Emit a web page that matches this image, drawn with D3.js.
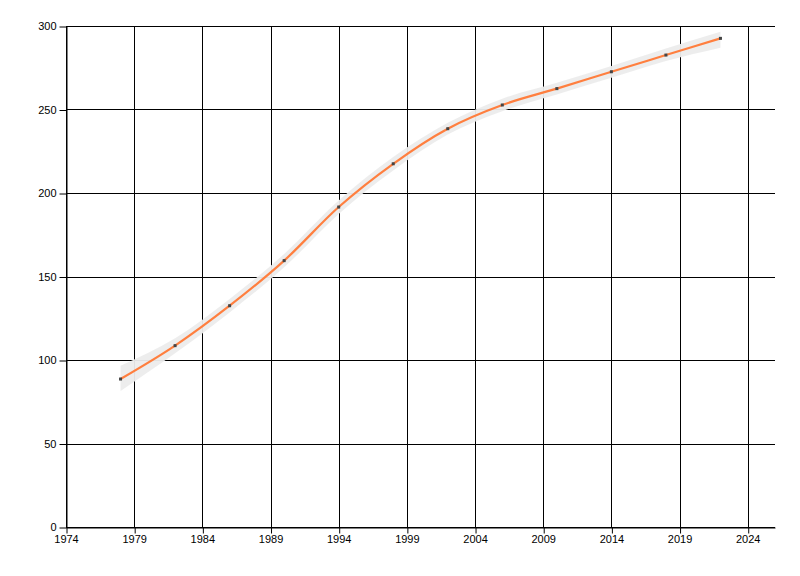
<!DOCTYPE html>
<html>
<head>
<meta charset="utf-8">
<script src="https://cdn.jsdelivr.net/npm/d3@7"></script>
<style>
  body { margin: 0; background: #fff; }
  text { font-family: "Liberation Sans", Arial, sans-serif; font-size: 11px; fill: #000; }
</style>
</head>
<body>
<div id="chart"></div>
<script>
// values
const years = [1978, 1982, 1986, 1990, 1994, 1998, 2002, 2006, 2010, 2014, 2018, 2022];
const values = [88.6, 108.6, 132.5, 159.5, 191.6, 217.5, 238.5, 252.7, 262.5, 272.6, 282.6, 292.6];
const bandUpper = [96.5, 113, 136.5, 163.5, 195.5, 221.5, 242, 256.5, 266, 276, 286.5, 296.5];
const bandLower = [81.5, 104, 128.5, 155.5, 187.5, 213.5, 235, 249, 259, 269, 279, 287];
const xTicks = [1974, 1979, 1984, 1989, 1994, 1999, 2004, 2009, 2014, 2019, 2024];
const yTicks = [0, 50, 100, 150, 200, 250, 300];

// dimensions
const width = 800;
const height = 576;
const margin = {top: 26, right: 25, bottom: 49, left: 66};

const data = years.map((y, i) => ({year: y, value: values[i], lo: bandLower[i], hi: bandUpper[i]}));

const x = d3.scaleLinear().domain([1974, 2026]).range([margin.left, width - margin.right]);
const y = d3.scaleLinear().domain([0, 300]).range([height - margin.bottom, margin.top]);

const svg = d3.select("#chart").append("svg")
    .attr("width", width)
    .attr("height", height);

// grid
svg.append("g")
    .selectAll("line")
    .data(yTicks)
    .join("line")
    .attr("x1", x(1974)).attr("x2", x(2026))
    .attr("y1", d => Math.round(y(d)) + 0.5).attr("y2", d => Math.round(y(d)) + 0.5)
    .attr("stroke", "#000");

svg.append("g")
    .selectAll("line")
    .data(xTicks)
    .join("line")
    .attr("x1", d => Math.round(x(d)) + 0.5).attr("x2", d => Math.round(x(d)) + 0.5)
    .attr("y1", y(300)).attr("y2", y(0))
    .attr("stroke", "#000");

// axes
const yAxis = svg.append("g")
    .attr("transform", `translate(${Math.round(x(1974)) + 0.5},0)`)
    .call(d3.axisLeft(y).tickValues(yTicks).tickSize(7).tickPadding(3).tickSizeOuter(0));

const xAxis = svg.append("g")
    .attr("transform", `translate(0,${Math.round(y(0)) + 0.5})`)
    .call(d3.axisBottom(x).tickValues(xTicks).tickFormat(d3.format("d")).tickSize(6).tickPadding(2).tickSizeOuter(0));

[yAxis, xAxis].forEach(a => {
    a.selectAll("path.domain").attr("stroke", "#000");
    a.selectAll(".tick line").attr("stroke", "#000");
    a.selectAll("text").attr("font-size", null).attr("font-family", null).attr("fill", "#000");
});
xAxis.selectAll(".tick line").attr("transform", "translate(0.5,0)");
yAxis.selectAll(".tick line").attr("transform", "translate(0,0.5)");

// band
const band = d3.area()
    .x(d => x(d.year))
    .y0(d => y(d.lo))
    .y1(d => y(d.hi))
    .curve(d3.curveMonotoneX);

svg.append("path")
    .datum(data)
    .attr("d", band)
    .attr("fill", "#ececec")
    .attr("opacity", 0.95);

// line
const line = d3.line()
    .x(d => x(d.year))
    .y(d => y(d.value))
    .curve(d3.curveMonotoneX);

svg.append("path")
    .datum(data)
    .attr("d", line)
    .attr("fill", "none")
    .attr("stroke", "#ff7f3f")
    .attr("stroke-width", 2.2);

// points
svg.append("g")
    .selectAll("rect")
    .data(data)
    .join("rect")
    .attr("x", d => x(d.year) - 1.5)
    .attr("y", d => y(d.value) - 1.5)
    .attr("width", 3)
    .attr("height", 3)
    .attr("fill", "#444");
</script>
</body>
</html>
